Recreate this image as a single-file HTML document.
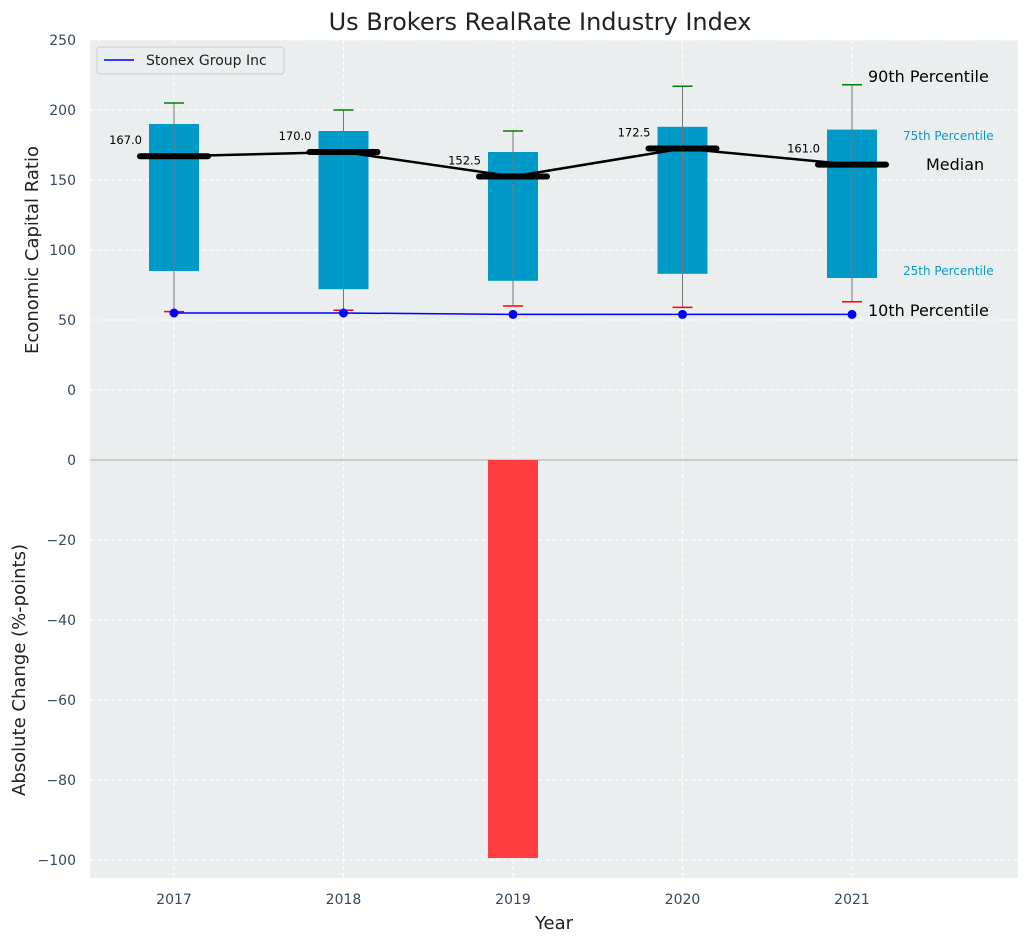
<!DOCTYPE html>
<html><head><meta charset="utf-8"><style>
body{margin:0;background:#fff;font-family:"DejaVu Sans","Liberation Sans",sans-serif}
svg text{font-family:"DejaVu Sans","Liberation Sans",sans-serif}
</style></head><body>
<svg id="c" width="1029" height="942" xmlns="http://www.w3.org/2000/svg"></svg>
<script>
const years=[2017,2018,2019,2020,2021];
const p10=[56,57,60,59,63];
const p25=[85,72,78,83,80];
const median=[167,170,152.5,172.5,161];
const p75=[190,185,170,188,186];
const p90=[205,200,185,217,218];
const company=[55,55,54,54,54];
const change=[0,0,-99.5,0,0];
const topTicks=[0,50,100,150,200,250];
const botTicks=[0,-20,-40,-60,-80,-100];

const NS="http://www.w3.org/2000/svg";
const svg=document.getElementById('c');
function el(t,a,p){const e=document.createElementNS(NS,t);for(const k in a)e.setAttribute(k,a[k]);(p||svg).appendChild(e);return e;}
const L=90,R=1018;
const x=v=>174+(v-2017)*169.5;
const yT=v=>390-v*1.4;
const yB=v=>460-v*4;

let bg=el('rect',{x:L,y:40,width:R-L,height:420,fill:'#eaeeef'});

let bg2=el('rect',{x:L,y:460,width:R-L,height:418,fill:'#eaeeef'});


// grids
topTicks.forEach(t=>{el('line',{x1:L,x2:R,y1:yT(t),y2:yT(t),stroke:'#fff','stroke-dasharray':'4,3'});
 let tx=el('text',{x:76,y:yT(t)+5,'text-anchor':'end','font-size':14,fill:'#34495e'});tx.textContent=t;
 });
botTicks.forEach(t=>{el('line',{x1:L,x2:R,y1:yB(t),y2:yB(t),stroke:'#fff','stroke-dasharray':'4,3'});
 let tx=el('text',{x:76,y:yB(t)+5,'text-anchor':'end','font-size':14,fill:'#34495e'});tx.textContent=t<0?'\u2212'+(-t):t;
 });
years.forEach(yr=>{el('line',{x1:x(yr),x2:x(yr),y1:40,y2:878,stroke:'#fff','stroke-dasharray':'4,3'});
 let tx=el('text',{x:x(yr),y:904,'text-anchor':'middle','font-size':14,fill:'#34495e'});tx.textContent=yr;
 });
el('line',{x1:L,x2:R,y1:460,y2:460,stroke:'#aaa','stroke-width':1});

// boxes
years.forEach((yr,i)=>{
 const cx=x(yr);
 let b=el('rect',{x:cx-25,y:yT(p75[i]),width:50,height:yT(p25[i])-yT(p75[i]),fill:'#009ac9'});
 
 el('line',{x1:cx,x2:cx,y1:yT(p90[i]),y2:yT(p10[i]),stroke:'#777','stroke-width':1});
 el('line',{x1:cx-10,x2:cx+10,y1:yT(p90[i]),y2:yT(p90[i]),stroke:'green','stroke-width':1.5});
 el('line',{x1:cx-10,x2:cx+10,y1:yT(p10[i]),y2:yT(p10[i]),stroke:'red','stroke-width':1.5});
 let m=el('line',{x1:cx-34,x2:cx+34,y1:yT(median[i]),y2:yT(median[i]),stroke:'#000','stroke-width':6,'stroke-linecap':'round'});
 
 let t=el('text',{x:cx-32,y:yT(median[i])-12,'text-anchor':'end','font-size':11.5,fill:'#000'});t.textContent=median[i].toFixed(1);
 
 let c=el('rect',{x:cx-25,y:yB(0),width:50,height:yB(change[i])-yB(0),fill:'#ff3f3f'});
 
});
let ml=el('polyline',{points:years.map((y,i)=>x(y)+','+yT(median[i])).join(' '),fill:'none',stroke:'#000','stroke-width':2.5});

let cl=el('polyline',{points:years.map((y,i)=>x(y)+','+yT(company[i])).join(' '),fill:'none',stroke:'blue','stroke-width':1.5});

years.forEach((y,i)=>{let d=el('circle',{cx:x(y),cy:yT(company[i]),r:4.5,fill:'blue'});
 });

// annotations
const ann=[['90th Percentile',868,82,16,'#000','start'],['75th Percentile',903,140,12,'#0a9ac9','start'],['Median',926,170,16,'#000','start'],['25th Percentile',903,275,12,'#0a9ac9','start'],['10th Percentile',868,316,16,'#000','start']];
ann.forEach(a=>{let t=el('text',{x:a[1],y:a[2],'font-size':a[3],fill:a[4]});t.textContent=a[0];
 });

// legend
let lg=el('rect',{x:97,y:47,width:187,height:27,fill:'#eaeeef',stroke:'#ccc',rx:3});

el('line',{x1:104,x2:134,y1:60,y2:60,stroke:'blue','stroke-width':1.5});
let lt=el('text',{x:146,y:65,'font-size':14,fill:'#222'});lt.textContent='Stonex Group Inc';


// titles
let ti=el('text',{x:540,y:30,'text-anchor':'middle','font-size':24,fill:'#222'});ti.textContent='Us Brokers RealRate Industry Index';

let xt=el('text',{x:554,y:929,'text-anchor':'middle','font-size':18,fill:'#222'});xt.textContent='Year';

let y1=el('text',{x:38,y:250,'text-anchor':'middle','font-size':18,fill:'#222',transform:'rotate(-90 38 250)'});y1.textContent='Economic Capital Ratio';

let y2=el('text',{x:25,y:670,'text-anchor':'middle','font-size':18,fill:'#222',transform:'rotate(-90 25 670)'});y2.textContent='Absolute Change (%-points)';

</script>
</body></html>
